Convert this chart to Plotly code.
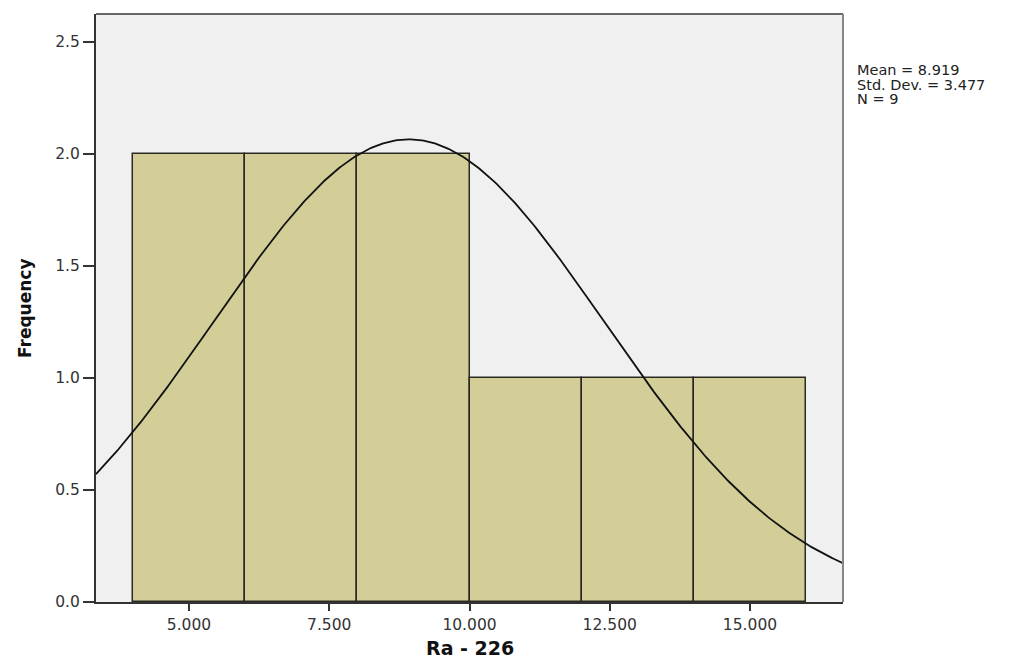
import numpy as np
import plotly.graph_objects as go

# Histogram data (Ra - 226)
bin_edges = [4, 6, 8, 10, 12, 14, 16]
counts = [2, 2, 2, 1, 1, 1]
mean_val = 8.919
std_val = 3.477
n_val = 9

x_ticks = [5, 7.5, 10, 12.5, 15]
x_tick_labels = ["5.000", "7.500", "10.000", "12.500", "15.000"]
y_ticks = [0, 0.5, 1.0, 1.5, 2.0, 2.5]
y_tick_labels = ["0.0", "0.5", "1.0", "1.5", "2.0", "2.5"]

x_range = [3.342, 16.658]
y_range = [0, 2.625]

centers = [(a + b) / 2 for a, b in zip(bin_edges[:-1], bin_edges[1:])]
widths = [b - a for a, b in zip(bin_edges[:-1], bin_edges[1:])]
bw = widths[0]

# Normal curve from the stated mean / std. dev.
xc = np.linspace(x_range[0], x_range[1], 400)
yc = n_val * bw * np.exp(-0.5 * ((xc - mean_val) / std_val) ** 2) / (std_val * np.sqrt(2 * np.pi))

fig = go.Figure()
fig.add_trace(go.Bar(
    x=centers, y=counts, width=widths,
    marker=dict(color="#D3CE98", line=dict(color="#2a2a22", width=1.5)),
    hoverinfo="skip", showlegend=False,
))
fig.add_trace(go.Scatter(
    x=xc, y=yc, mode="lines",
    line=dict(color="#111111", width=1.8),
    hoverinfo="skip", showlegend=False,
))

tick_font = dict(family="DejaVu Sans", size=15.5, color="#333333")

fig.update_layout(
    width=1010, height=662,
    margin=dict(l=96, r=167, t=14, b=60),
    paper_bgcolor="white",
    plot_bgcolor="#F0F0F0",
    bargap=0,
    xaxis=dict(
        range=x_range, tickvals=x_ticks, ticktext=x_tick_labels,
        ticks="outside", ticklen=7, tickwidth=2, tickcolor="#333333",
        showgrid=False, zeroline=False, automargin=False,
        showline=True, linecolor="#333333", linewidth=2, mirror=False,
        tickfont=tick_font,
    ),
    yaxis=dict(
        range=y_range, tickvals=y_ticks, ticktext=y_tick_labels,
        ticks="outside", ticklen=11, tickwidth=2, tickcolor="#333333",
        showgrid=False, zeroline=False, automargin=False,
        showline=True, linecolor="#333333", linewidth=2, mirror=False,
        tickfont=tick_font,
    ),
)

# Axis titles
fig.add_annotation(text="<b>Ra - 226</b>", xref="paper", yref="paper",
                   x=0.5, y=-(648 - 602) / 588, xanchor="center", yanchor="middle",
                   showarrow=False, font=dict(family="DejaVu Sans", size=19, color="#111111"))
fig.add_annotation(text="<b>Frequency</b>", xref="paper", yref="paper",
                   x=-(96 - 25) / 747, y=(602 - 308) / 588, xanchor="center", yanchor="middle",
                   textangle=-90, showarrow=False,
                   font=dict(family="DejaVu Sans", size=17, color="#111111"))

# Frame top/right
fig.add_shape(type="line", xref="paper", yref="paper", x0=0, x1=1, y0=1, y1=1,
              line=dict(color="#666666", width=2))
fig.add_shape(type="line", xref="paper", yref="paper", x0=1, x1=1, y0=0, y1=1,
              line=dict(color="#888888", width=2))

stats_lines = [f"Mean = {mean_val:.3f}", f"Std. Dev. = {std_val:.3f}", f"N = {n_val}"]
for i, t in enumerate(stats_lines):
    fig.add_annotation(
        text=t, xref="paper", yref="paper",
        x=(855 - 96) / 747, y=1 - (56 + i * 14.5) / 588,
        xanchor="left", yanchor="middle", showarrow=False,
        font=dict(family="DejaVu Sans", size=14.5, color="#222222"),
    )

fig.write_html("out.html")
